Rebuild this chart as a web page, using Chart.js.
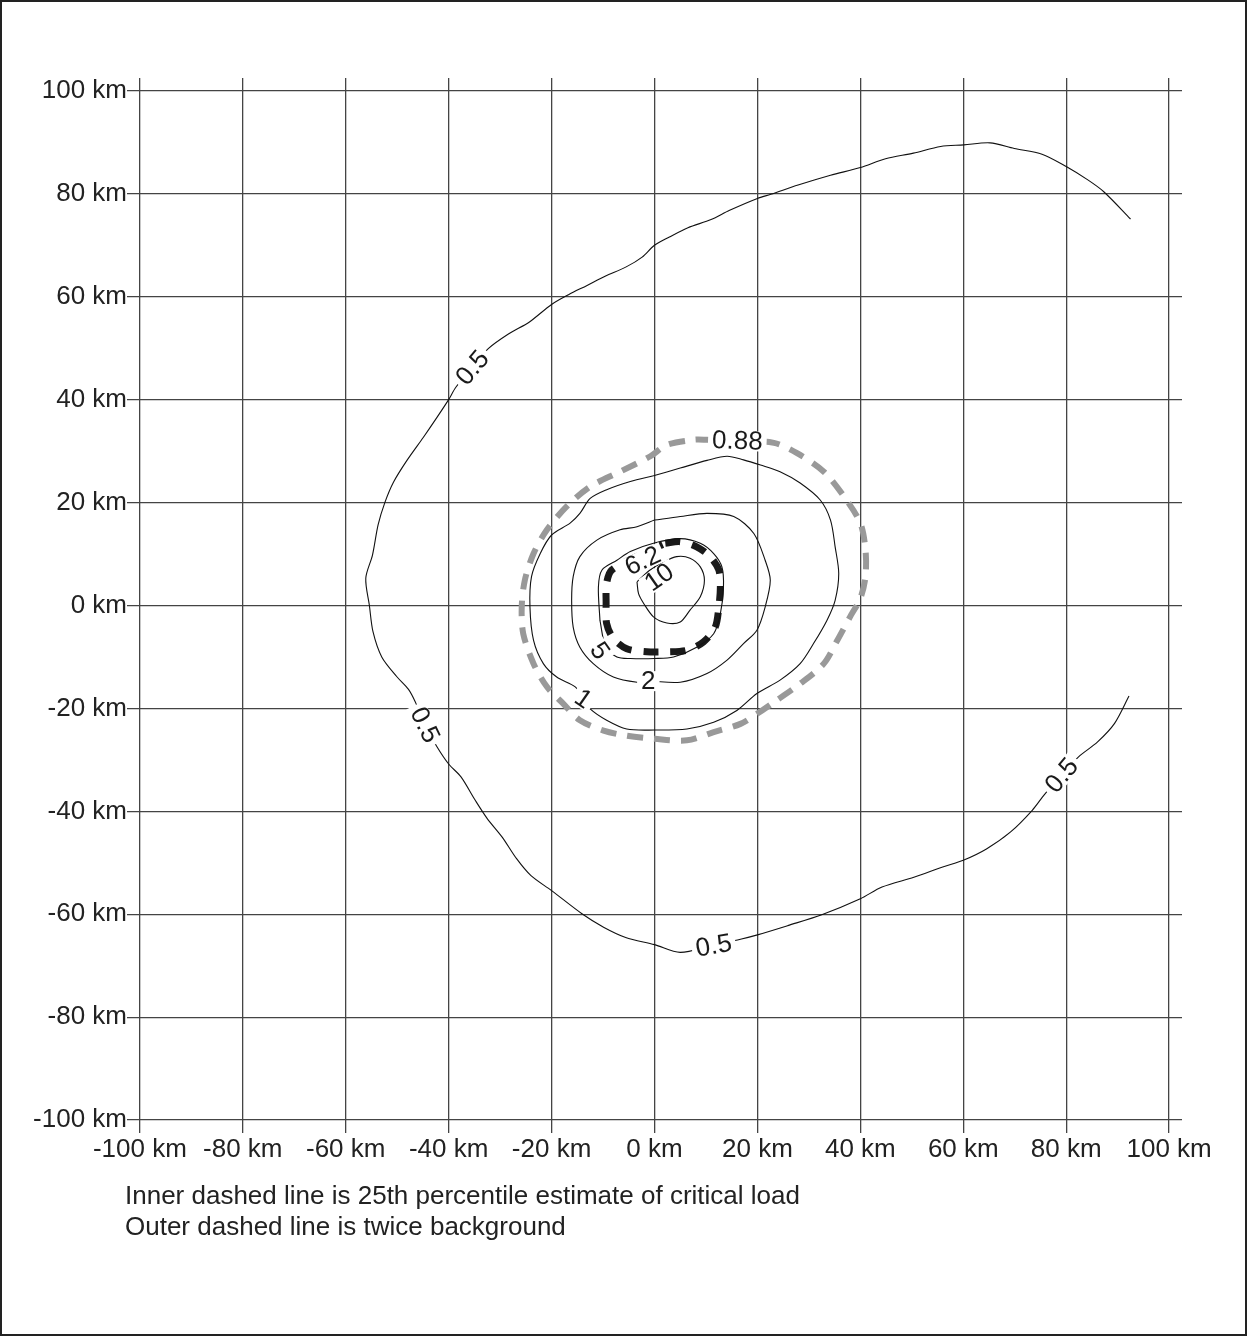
<!DOCTYPE html>
<html>
<head>
<meta charset="utf-8">
<script src="https://cdn.jsdelivr.net/npm/chart.js@4/dist/chart.umd.min.js"></script>
<style>
  html, body { margin: 0; padding: 0; background: #fff; }
  #wrap { position: relative; width: 1247px; height: 1336px; box-sizing: border-box; border: 2px solid #222; }
  #myChart { position: absolute; left: -2px; top: -2px; }
  .note { position: absolute; left: 123px; font: 26px "Liberation Sans", Arial, sans-serif; line-height: 30px; color: #222; white-space: nowrap; }
</style>
</head>
<body>
<div id="wrap">
  <canvas id="myChart" width="1247" height="1336"></canvas>
  <div class="note" style="top:1178px">Inner dashed line is 25th percentile estimate of critical load</div>
  <div class="note" style="top:1209px">Outer dashed line is twice background</div>
</div>
<script>
var tickVals = [-100, -80, -60, -40, -20, 0, 20, 40, 60, 80, 100];

// 0.5 contour, open line from top right round the west side to bottom right
var c05x = [92.5, 87.3, 84.2, 80, 75.3, 69.9, 65.2, 60.1, 55.6, 50.3, 44.9, 40, 34.2, 27.9, 22.6, 20, 14.6, 11, 6.5, 2.9, 0, -2.4, -5.5, -9.6, -13.1, -16.7, -20, -24.3, -28.3, -32.3, -35.4, -38.6, -40, -42.3, -44.9, -48.1, -50.7, -52.4, -53.7, -54.8, -56.1, -55.4, -54.7, -53, -50.1, -47.8, -46.5, -44.6, -42.3, -40, -37.6, -34.8, -32.5, -29.6, -26.8, -24, -20, -14.1, -9.9, -5.6, 0, 5, 11, 16.9, 20, 25.9, 32.5, 40, 44.2, 50.4, 56, 60, 64.5, 69.2, 73.4, 75.8, 79.1, 82.4, 86.1, 89.4, 92.2];
var c05y = [75.1, 80.4, 82.7, 85.3, 87.7, 88.8, 89.9, 89.5, 89.2, 87.9, 86.8, 85.1, 83.6, 81.7, 79.9, 79.1, 76.8, 75, 73.4, 71.6, 70, 67.7, 65.8, 64, 62.2, 60.4, 58.5, 55.1, 52.8, 49.9, 46.2, 42.4, 40, 36.5, 32.7, 28.2, 24, 20, 15.7, 9.8, 5.3, 0, -5.1, -10, -13.8, -16.3, -18.7, -23.2, -27.4, -30.8, -33.3, -37.9, -41.4, -45, -49.2, -52.5, -55.4, -59.9, -62.5, -64.5, -65.9, -67.4, -66.1, -64.8, -64, -62.2, -60.1, -57, -54.7, -52.8, -50.8, -49.5, -47.3, -44, -39.8, -36.7, -33, -29.4, -26.5, -22.9, -17.6];

// 0.88 contour (twice background), grey dashed
var c088x = [16, 23.2, 27.7, 32.9, 36.8, 40, 41, 41, 40, 38, 35.5, 32.9, 28.3, 23.2, 20, 16.7, 11.5, 6.3, 0, -5.4, -9.9, -14.5, -17.7, -20.9, -23.5, -25.5, -25.8, -25.2, -23.5, -20.9, -17.1, -12.5, -6.7, -0.8, 2.4, 7.6, 10.2, 16];
var c088y = [32, 31.6, 29.6, 26, 21.2, 16, 10.8, 5.6, 1.4, -2.2, -6.8, -11.3, -15.2, -18.8, -21, -23, -24.6, -26.2, -25.9, -25.3, -24.3, -22.3, -19.1, -15.8, -11.3, -5.5, -0.3, 4.9, 10.1, 14.7, 19.2, 23.1, 26, 29, 31.2, 32.2, 32.2, 32];

// 1 contour
var c1x = [-0.2, 5, 10.2, 14.1, 17.3, 20.6, 24.4, 28.3, 32.2, 34.2, 35.1, 35.8, 35.1, 33.5, 30.9, 28.3, 24.4, 19.9, 16, 11.5, 6.3, 0, -5.4, -9.3, -12.5, -13.8, -15.4, -19, -21.6, -23.5, -24.2, -23.9, -22.2, -20, -16.4, -14.5, -12.5, -9.3, -4.7, -0.2];
var c1y = [25.2, 26.7, 28.2, 29, 28.3, 27.3, 26, 23.8, 20.5, 16.6, 11.4, 6.2, 1, -2.9, -7.4, -11.3, -14.5, -17.1, -20.4, -22.7, -24, -24.2, -24, -22.3, -20.1, -18.1, -15.8, -13.9, -11.3, -6.8, -0.3, 5.6, 10.1, 13.7, 16, 17.9, 20.8, 22.5, 24.1, 25.2];

// 2 contour
var c2x = [0, 5, 10.2, 15.4, 19.3, 21.5, 22.5, 21.5, 19.9, 17.3, 14.1, 10.2, 5, -1.2, -3.4, -8, -11.9, -14.5, -15.8, -16.1, -15.8, -14.5, -11.2, -6.7, -3.4, 0];
var c2y = [16.6, 17.3, 17.9, 17.3, 14, 8.8, 4.9, -0.3, -4.8, -7.4, -10.6, -13.2, -14.9, -14.7, -14.9, -13.9, -11.3, -8.1, -4.2, 1, 5.6, 9.5, 12.7, 14.7, 15.3, 16.6];

// 5 contour
var c5x = [-10.6, -10.9, -10.2, -7.3, -4.7, -0.2, 5, 8.9, 11.5, 13.1, 13.4, 12.8, 11.5, 8.2, 3.7, 0, -4.7, -7.3, -9.5, -10.6];
var c5y = [-2.9, 3.6, 6.9, 8.8, 10.5, 12.1, 13, 12.1, 10.1, 7.5, 3.6, -1.6, -5.5, -8.1, -10, -10.3, -10.3, -10, -8, -2.9];

// 6.2 contour (25th percentile critical load), black dashed
var c62x = [2.1, 5, 8.2, 10.8, 12.5, 12.8, 12.5, 11.8, 9.5, 6.3, 2.4, -1.5, -5.4, -8, -9.3, -9.4, -9.3, -8.3, -2.8, 2.1];
var c62y = [12.1, 12.4, 11.4, 9.5, 6.9, 3.6, -0.3, -4.2, -7.1, -8.7, -9, -9, -8.4, -6.4, -3.5, 0.4, 4.3, 6.9, 9.8, 12.1];

// 10 contour
var c10x = [-3.4, -1, 1.5, 4.3, 6.9, 8.9, 9.7, 8.9, 6.9, 5, 2.4, -0.2, -2.1, -3.1, -3.4];
var c10y = [4.6, 6.8, 8.3, 9.5, 9.2, 7.5, 4.9, 1.7, -0.9, -3.2, -3.4, -2.2, 0.4, 2.3, 4.6];

// contour labels
var labelText = ['0.5', '0.5', '0.5', '0.5', '0.88', '1', '2', '5', '6.2', '10'];
var labelX = [-35.4, -44.6, 11.5, 79.1, 16.1, -13.8, -1.2, -10.6, -2.3, 0.9];
var labelY = [46.2, -23.2, -66.1, -33, 32, -18.1, -14.7, -8.8, 8.7, 5.5];
var labelRot = [-50, 64, -10, -50, 2, 35, 0, 55, -25, -35];

function pts(xs, ys) {
    var out = [];
    for (var i = 0; i < xs.length; i++) {
        out.push({x: xs[i], y: ys[i]});
    }
    return out;
}

function thin(xs, ys) {
    return {
        data: pts(xs, ys),
        showLine: true,
        borderColor: '#111',
        borderWidth: 1.1,
        pointRadius: 0,
        tension: 0.3
    };
}

var fontFam = '"Liberation Sans", Arial, sans-serif';

var contourLabels = {
    id: 'contourLabels',
    afterDatasetsDraw: function(chart) {
        var ctx = chart.ctx;
        var xs = chart.scales.x, ys = chart.scales.y;
        ctx.save();
        ctx.font = '26px ' + fontFam;
        ctx.textAlign = 'center';
        ctx.textBaseline = 'middle';
        for (var i = 0; i < labelText.length; i++) {
            var px = xs.getPixelForValue(labelX[i]);
            var py = ys.getPixelForValue(labelY[i]);
            var w = ctx.measureText(labelText[i]).width;
            ctx.save();
            ctx.translate(px, py);
            ctx.rotate(labelRot[i] * Math.PI / 180);
            ctx.fillStyle = '#fff';
            ctx.fillRect(-w / 2 - 4, -10, w + 8, 20);
            ctx.fillStyle = '#1a1a1a';
            ctx.fillText(labelText[i], 0, 1);
            ctx.restore();
        }
        ctx.restore();
    }
};

var gridOpts = {
    color: '#444',
    lineWidth: 1.3,
    drawTicks: false
};

var ctx = document.getElementById('myChart').getContext('2d');
var chart = new Chart(ctx, {
    type: 'scatter',
    data: {
        datasets: [
            thin(c05x, c05y),
            thin(c1x, c1y),
            thin(c2x, c2y),
            thin(c5x, c5y),
            thin(c10x, c10y),
            {
                data: pts(c088x, c088y),
                showLine: true,
                borderColor: '#999',
                borderWidth: 6,
                borderDash: [16, 11],
                pointRadius: 0,
                tension: 0.3
            },
            {
                data: pts(c62x, c62y),
                showLine: true,
                borderColor: '#1a1a1a',
                borderWidth: 7,
                borderDash: [15, 12],
                pointRadius: 0,
                tension: 0.3
            }
        ]
    },
    options: {
        responsive: false,
        animation: false,
        layout: {
            padding: {top: 78, right: 65, left: 0, bottom: 153}
        },
        plugins: {
            legend: {display: false},
            tooltip: {enabled: false}
        },
        scales: {
            x: {
                type: 'linear',
                min: -102.5,
                max: 102.5,
                afterBuildTicks: function(axis) {
                    axis.ticks = tickVals.map(function(v) { return {value: v}; });
                },
                afterFit: function(axis) { axis.height = 50; },
                grid: gridOpts,
                border: {display: false},
                ticks: {
                    autoSkip: false,
                    maxRotation: 0,
                    padding: 1,
                    color: '#222',
                    font: {family: fontFam, size: 26},
                    callback: function(v) { return v + ' km'; }
                }
            },
            y: {
                type: 'linear',
                min: -102.5,
                max: 102.5,
                afterBuildTicks: function(axis) {
                    axis.ticks = tickVals.map(function(v) { return {value: v}; });
                },
                afterFit: function(axis) { axis.width = 127; },
                grid: gridOpts,
                border: {display: false},
                ticks: {
                    autoSkip: false,
                    padding: 0,
                    color: '#222',
                    font: {family: fontFam, size: 26},
                    callback: function(v) { return v + ' km'; }
                }
            }
        }
    },
    plugins: [contourLabels]
});
</script>
</body>
</html>
